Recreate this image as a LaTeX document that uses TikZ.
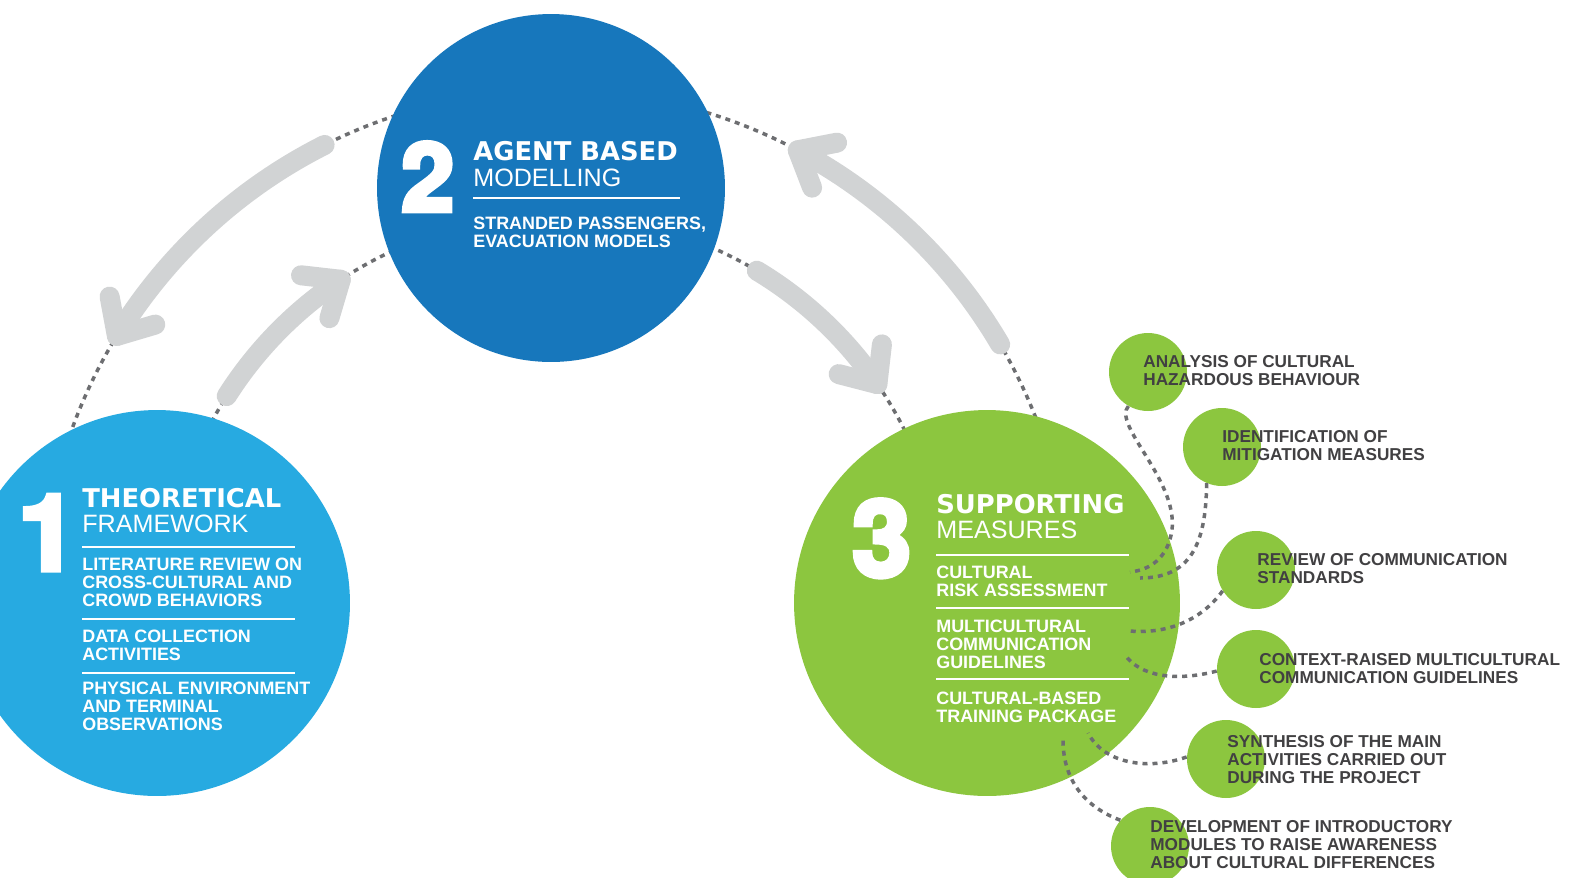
\documentclass[tikz,border=0pt]{standalone}
\usepackage{fontspec}
\setmainfont{Liberation Sans}
\newfontfamily\headfont{DejaVu Sans}[UprightFont={* Bold}]
\newfontfamily\numfont{TeX Gyre Heros}[UprightFont={* Bold}, FakeBold=5]
\usetikzlibrary{positioning}

\definecolor{stageone}{HTML}{27AAE1}
\definecolor{stagetwo}{HTML}{1777BC}
\definecolor{stagethree}{HTML}{8CC63F}
\definecolor{arrowgray}{HTML}{D1D3D4}
\definecolor{dotgray}{HTML}{6D6E71}
\definecolor{labelgray}{HTML}{414042}

\begin{document}
\begin{tikzpicture}[x=0.02cm, y=-0.02cm,
  stage/.style={circle, inner sep=0pt, minimum size=7.72cm},
  task/.style={circle, fill=stagethree, inner sep=0pt, minimum size=1.56cm},
  digit/.style={anchor=base west, inner sep=0pt, text=white, font=\numfont\fontsize{60}{60}\selectfont},
  title/.style={anchor=base west, inner sep=0pt, text=white, font=\headfont\fontsize{14.7}{15}\selectfont},
  subtitle/.style={anchor=base west, inner sep=0pt, text=white, font=\fontsize{14.3}{15}\selectfont},
  % multi-line items sit on the baseline of their last line
  item/.style={anchor=base west, inner sep=0pt, align=left, text=white, font=\bfseries\fontsize{10.2}{10.1}\selectfont},
  tasklabel/.style={item, text=labelgray, font=\bfseries\fontsize{9.8}{10.1}\selectfont},
  divider/.style={white, line width=0.04cm},
  dots/.style={dotgray, line width=0.07cm, dash pattern=on 0.1cm off 0.1cm},
  shaft/.style={arrowgray, line width=0.4cm, line cap=round},
  chevron/.style={shaft, line join=round}
]
\useasboundingbox (0,0) rectangle (1569,877);
\fill[white] (0,0) rectangle (1569,877);

% Rings that the stages sit on
\coordinate (hub) at (556,605);
\draw[dots] (hub) ++(198:515) arc[start angle=198, end angle=342, radius=515];
\draw[dots] (hub) ++(205:390) arc[start angle=205, end angle=340, radius=390];

% Feedback arrows between the stages
\path (hub) ++(211.5:515) coordinate (tipA);
\path (hub) ++(298:515) coordinate (tipB);
\path (hub) ++(236.5:390) coordinate (tipC);
\path (hub) ++(325.5:390) coordinate (tipD);
\draw[shaft] (hub) ++(243.3:515) arc[start angle=243.3, end angle=211.5, radius=515];
\draw[chevron] (tipA) ++(259.5:40) -- (tipA) -- ++(343.5:40);
\draw[shaft] (hub) ++(329.6:515) arc[start angle=329.6, end angle=298, radius=515];
\draw[chevron] (tipB) ++(-11:40) -- (tipB) -- ++(69:40);
\draw[shaft] (hub) ++(212.4:390) arc[start angle=212.4, end angle=236.5, radius=390];
\draw[chevron] (tipC) ++(186.5:40) -- (tipC) -- ++(106.5:40);
\draw[shaft] (hub) ++(301:390) arc[start angle=301, end angle=325.5, radius=390];
\draw[chevron] (tipD) ++(276.5:40) -- (tipD) -- ++(194.5:40);

% Stage 1
\node[stage, fill=stageone] (theory) at (157,603) {};
\node[digit] at (18,570) {1};
\node[title] at (82,507) {THEORETICAL};
\node[subtitle] at (82,532) {FRAMEWORK};
\draw[divider] (82,547) -- (295,547);
\node[item] at (82,606) {LITERATURE REVIEW ON\\CROSS-CULTURAL AND\\CROWD BEHAVIORS};
\draw[divider] (82,619) -- (295,619);
\node[item] at (82,660) {DATA COLLECTION\\ACTIVITIES};
\draw[divider] (82,673) -- (295,673);
\node[item] at (82,730) {PHYSICAL ENVIRONMENT\\AND TERMINAL\\OBSERVATIONS};

% Stage 2
\node[stage, fill=stagetwo, minimum size=6.96cm] (model) at (551,188) {};
\node[digit, font=\numfont\fontsize{54}{54}\selectfont] at (401,211) {2};
\node[title] at (473,160) {AGENT BASED};
\node[subtitle] at (473,186) {MODELLING};
\draw[divider] (473,198) -- (680,198);
\node[item] at (473,247) {STRANDED PASSENGERS,\\EVACUATION MODELS};

% Stage 3
\node[stage, fill=stagethree] (measures) at (987,603) {};
\node[digit] at (852,576) {3};
\node[title] at (936,513) {SUPPORTING};
\node[subtitle] at (936,538) {MEASURES};
\draw[divider] (936,555) -- (1129,555);
\node[item] at (936,596) {CULTURAL\\RISK ASSESSMENT};
\draw[divider] (936,608) -- (1129,608);
\node[item] at (936,668) {MULTICULTURAL\\COMMUNICATION\\GUIDELINES};
\draw[divider] (936,679) -- (1129,679);
\node[item] at (936,722) {CULTURAL-BASED\\TRAINING PACKAGE};

% Tasks of stage 3
\foreach \n/\x/\y in {a1/1148/372, a2/1222/447, a3/1256/570, a4/1256/669, a5/1226/759, a6/1150/846}
  \node[task] (\n) at (\x,\y) {};

\coordinate (p1) at (1130,572);
\coordinate (p2) at (1140,578);
\coordinate (p3) at (1130,631);
\coordinate (p4) at (1125,655);
\coordinate (p5) at (1088,733);
\coordinate (p6) at (1063,740);
\draw[dots] (a1.240) .. controls (1112,425) and (1178,480) .. (1172,530) .. controls (1168,558) and (1150,570) .. (p1);
\draw[dots] (a2.247) .. controls (1206,545) and (1190,578) .. (p2);
\draw[dots] (a3.212) .. controls (1200,622) and (1165,634) .. (p3);
\draw[dots] (a4.183) .. controls (1175,682) and (1140,676) .. (p4);
\draw[dots] (a5.177) .. controls (1150,770) and (1105,765) .. (p5);
\draw[dots] (a6.139) .. controls (1080,805) and (1063,775) .. (p6);

\node[tasklabel] at (1143,385) {ANALYSIS OF CULTURAL\\HAZARDOUS BEHAVIOUR};
\node[tasklabel] at (1222,460) {IDENTIFICATION OF\\MITIGATION MEASURES};
\node[tasklabel] at (1257,583) {REVIEW OF COMMUNICATION\\STANDARDS};
\node[tasklabel] at (1259,683) {CONTEXT-RAISED MULTICULTURAL\\COMMUNICATION GUIDELINES};
\node[tasklabel] at (1227,783) {SYNTHESIS OF THE MAIN\\ACTIVITIES CARRIED OUT\\DURING THE PROJECT};
\node[tasklabel] at (1150,868) {DEVELOPMENT OF INTRODUCTORY\\MODULES TO RAISE AWARENESS\\ABOUT CULTURAL DIFFERENCES};
\end{tikzpicture}
\end{document}
